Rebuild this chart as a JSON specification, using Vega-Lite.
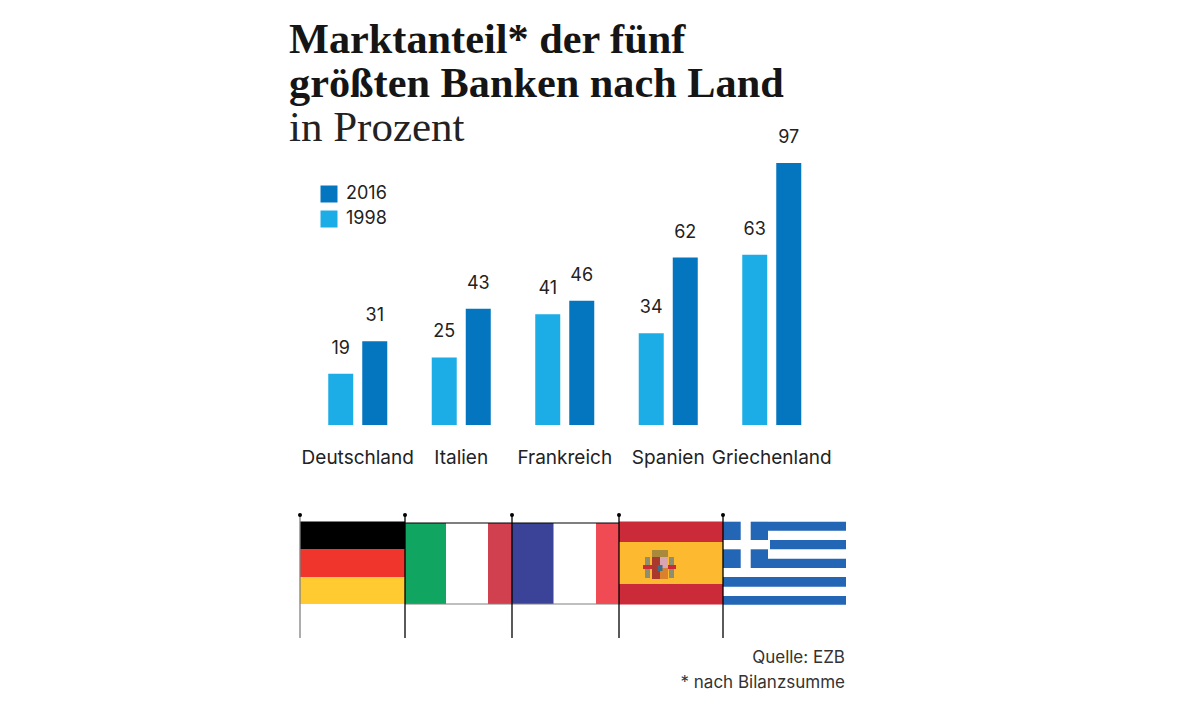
{"$schema":"https://vega.github.io/schema/vega-lite/v6.json","width":1200,"height":565,"autosize":{"type":"none"},"padding":{"left":0,"top":150,"right":0,"bottom":0},"background":"white","config":{"view":{"stroke":null}},
"title":{"text":["Marktanteil* der fünf","größten Banken nach Land"],"subtitle":"in Prozent","anchor":"start","frame":"group","dx":289,"offset":-21.5,"font":"Liberation Serif","fontWeight":900,"fontSize":42.3,"lineHeight":44,"color":"#151515","subtitleFont":"Liberation Serif","subtitleFontSize":43,"subtitleFontWeight":400,"subtitleColor":"#222222","subtitlePadding":0},
"layer":[
{"data":{"values":[{"Land":"Deutschland","Jahr":"1998","Anteil":19},{"Land":"Deutschland","Jahr":"2016","Anteil":31},{"Land":"Italien","Jahr":"1998","Anteil":25},{"Land":"Italien","Jahr":"2016","Anteil":43},{"Land":"Frankreich","Jahr":"1998","Anteil":41},{"Land":"Frankreich","Jahr":"2016","Anteil":46},{"Land":"Spanien","Jahr":"1998","Anteil":34},{"Land":"Spanien","Jahr":"2016","Anteil":62},{"Land":"Griechenland","Jahr":"1998","Anteil":63},{"Land":"Griechenland","Jahr":"2016","Anteil":97}]},
"encoding":{"x":{"field":"Land","type":"nominal","sort":["Deutschland","Italien","Frankreich","Spanien","Griechenland"],"scale":{"range":[306,823.5],"paddingInner":0,"paddingOuter":0},"axis":{"title":null,"orient":"bottom","offset":-258,"domain":false,"ticks":false,"labelAngle":0,"labelFont":"Inter","labelFontSize":19,"labelColor":"#222222","labelPadding":0,"labelBaseline":"middle"}},"xOffset":{"field":"Jahr","type":"nominal","sort":["1998","2016"],"scale":{"paddingInner":0.265,"paddingOuter":0.654}},"y":{"field":"Anteil","type":"quantitative","scale":{"domain":[0,97],"range":[275,13]},"axis":null}},
"layer":[
{"mark":{"type":"bar","clip":false},"encoding":{"color":{"field":"Jahr","type":"nominal","scale":{"domain":["2016","1998"],"range":["#0476bf","#1dade6"]},"legend":{"title":null,"orient":"none","legendX":320,"legendY":35,"symbolType":"square","symbolSize":289,"symbolStrokeWidth":0,"symbolOpacity":1,"labelFont":"Inter","labelFontSize":18,"labelColor":"#222222","labelOffset":8,"rowPadding":7,"padding":0}}}},
{"mark":{"type":"text","font":"Inter","fontSize":18,"color":"#222222","baseline":"middle","dy":-25},"encoding":{"text":{"field":"Anteil","type":"quantitative"}}}
]},
{"encoding":{"x":{"field":"x0","type":"quantitative","scale":{"domain":[0,546],"range":[300,846]},"axis":null},"y":{"field":"y0","type":"quantitative","scale":{"domain":[0,83],"range":[371,454]},"axis":null}},
"layer":[
{"data":{"values":[
{"teil":"DE Schwarz","farbe":"Schwarz","x0":0,"x1":105,"y0":0.5,"y1":28},
{"teil":"DE Rot","farbe":"DE-Rot","x0":0,"x1":105,"y0":28,"y1":56},
{"teil":"DE Gold","farbe":"DE-Gold","x0":0,"x1":105,"y0":56,"y1":83},
{"teil":"IT Grün","farbe":"IT-Grün","x0":105,"x1":146,"y0":2,"y1":83},
{"teil":"IT Rot","farbe":"IT-Rot","x0":188,"x1":212,"y0":2,"y1":83},
{"teil":"FR Blau","farbe":"FR-Blau","x0":212,"x1":253.5,"y0":2,"y1":83},
{"teil":"FR Rot","farbe":"FR-Rot","x0":296,"x1":319,"y0":2,"y1":83},
{"teil":"ES Rot oben","farbe":"ES-Rot","x0":319,"x1":423,"y0":0.5,"y1":21},
{"teil":"ES Gold","farbe":"ES-Gold","x0":319,"x1":423,"y0":21,"y1":63},
{"teil":"ES Rot unten","farbe":"ES-Rot","x0":319,"x1":423,"y0":63,"y1":83.5},
{"teil":"Krone","farbe":"Krone","x0":352,"x1":368,"y0":29,"y1":36},
{"teil":"Säule links","farbe":"Säule","x0":345,"x1":350,"y0":36,"y1":57},
{"teil":"Säule rechts","farbe":"Säule","x0":369,"x1":374,"y0":36,"y1":57},
{"teil":"Band links","farbe":"ES-Rot","x0":343,"x1":352,"y0":44,"y1":48},
{"teil":"Band rechts","farbe":"ES-Rot","x0":368,"x1":376,"y0":44,"y1":48},
{"teil":"Schild 1","farbe":"Schild-Rot","x0":352,"x1":360,"y0":36,"y1":47},
{"teil":"Schild 2","farbe":"Schild-Rosa","x0":360,"x1":368,"y0":36,"y1":47},
{"teil":"Schild 3","farbe":"Schild-Rot","x0":352,"x1":360,"y0":47,"y1":58},
{"teil":"Schild 4","farbe":"Schild-Orange","x0":360,"x1":368,"y0":47,"y1":58},
{"teil":"Schild Mitte","farbe":"Schild-Blau","x0":357.5,"x1":362.5,"y0":44,"y1":50},
{"teil":"GR Kanton 1","farbe":"GR-Blau","x0":423,"x1":440.7,"y0":0.7,"y1":19},
{"teil":"GR Kanton 2","farbe":"GR-Blau","x0":450.7,"x1":468,"y0":0.7,"y1":19},
{"teil":"GR Kanton 3","farbe":"GR-Blau","x0":423,"x1":440.7,"y0":28.3,"y1":47},
{"teil":"GR Kanton 4","farbe":"GR-Blau","x0":450.7,"x1":468,"y0":28.3,"y1":47},
{"teil":"GR Streifen 1","farbe":"GR-Blau","x0":468,"x1":546,"y0":0.7,"y1":9.7},
{"teil":"GR Streifen 3","farbe":"GR-Blau","x0":470,"x1":546,"y0":19,"y1":28.3},
{"teil":"GR Streifen 5","farbe":"GR-Blau","x0":468,"x1":546,"y0":37.7,"y1":47},
{"teil":"GR Streifen 7","farbe":"GR-Blau","x0":423,"x1":546,"y0":56,"y1":65.7},
{"teil":"GR Streifen 9","farbe":"GR-Blau","x0":423,"x1":546,"y0":75,"y1":83.7}
]},"mark":{"type":"rect"},"encoding":{"x2":{"field":"x1"},"y2":{"field":"y1"},"color":{"field":"farbe","type":"nominal","legend":null,"scale":{"domain":["Schwarz","Grau","DE-Rot","DE-Gold","IT-Grün","IT-Rot","FR-Blau","FR-Rot","ES-Rot","ES-Gold","Krone","Säule","Schild-Rot","Schild-Rosa","Schild-Orange","Schild-Blau","GR-Blau"],"range":["#000000","#808080","#ef352c","#ffcb30","#10a560","#d1404f","#3a4397","#f04b55","#cb2b38","#fdb92f","#a98a3c","#8c9070","#a8392c","#d9a5b0","#d9822b","#3f6d8c","#2266b5"]}}}},
{"data":{"values":[{"x0":105,"x1":319,"y0":2,"farbe":"Schwarz"},{"x0":105,"x1":319,"y0":83,"farbe":"Grau"}]},"mark":{"type":"rule","strokeWidth":1.2},"encoding":{"x2":{"field":"x1"},"color":{"field":"farbe","type":"nominal","legend":null}}},
{"data":{"values":[{"x0":0,"y0":-6,"y1":117,"farbe":"Grau"},{"x0":105,"y0":-6,"y1":117,"farbe":"Schwarz"},{"x0":212,"y0":-6,"y1":117,"farbe":"Schwarz"},{"x0":319,"y0":-6,"y1":117,"farbe":"Schwarz"},{"x0":423,"y0":-6,"y1":117,"farbe":"Schwarz"}]},"layer":[
{"mark":{"type":"rule","strokeWidth":1.3},"encoding":{"y2":{"field":"y1"},"color":{"field":"farbe","type":"nominal","legend":null}}},
{"mark":{"type":"point","filled":true,"size":16,"color":"#000000","opacity":1}}
]},
{"data":{"values":[{"x0":545,"y0":137,"text":"Quelle: EZB"},{"x0":545,"y0":162,"text":"* nach Bilanzsumme"}]},"mark":{"type":"text","align":"right","baseline":"middle","font":"Inter","fontSize":17,"color":"#333333"},"encoding":{"text":{"field":"text","type":"nominal"}}}
]}
],
"resolve":{"scale":{"x":"independent","y":"independent","color":"independent"}}}
